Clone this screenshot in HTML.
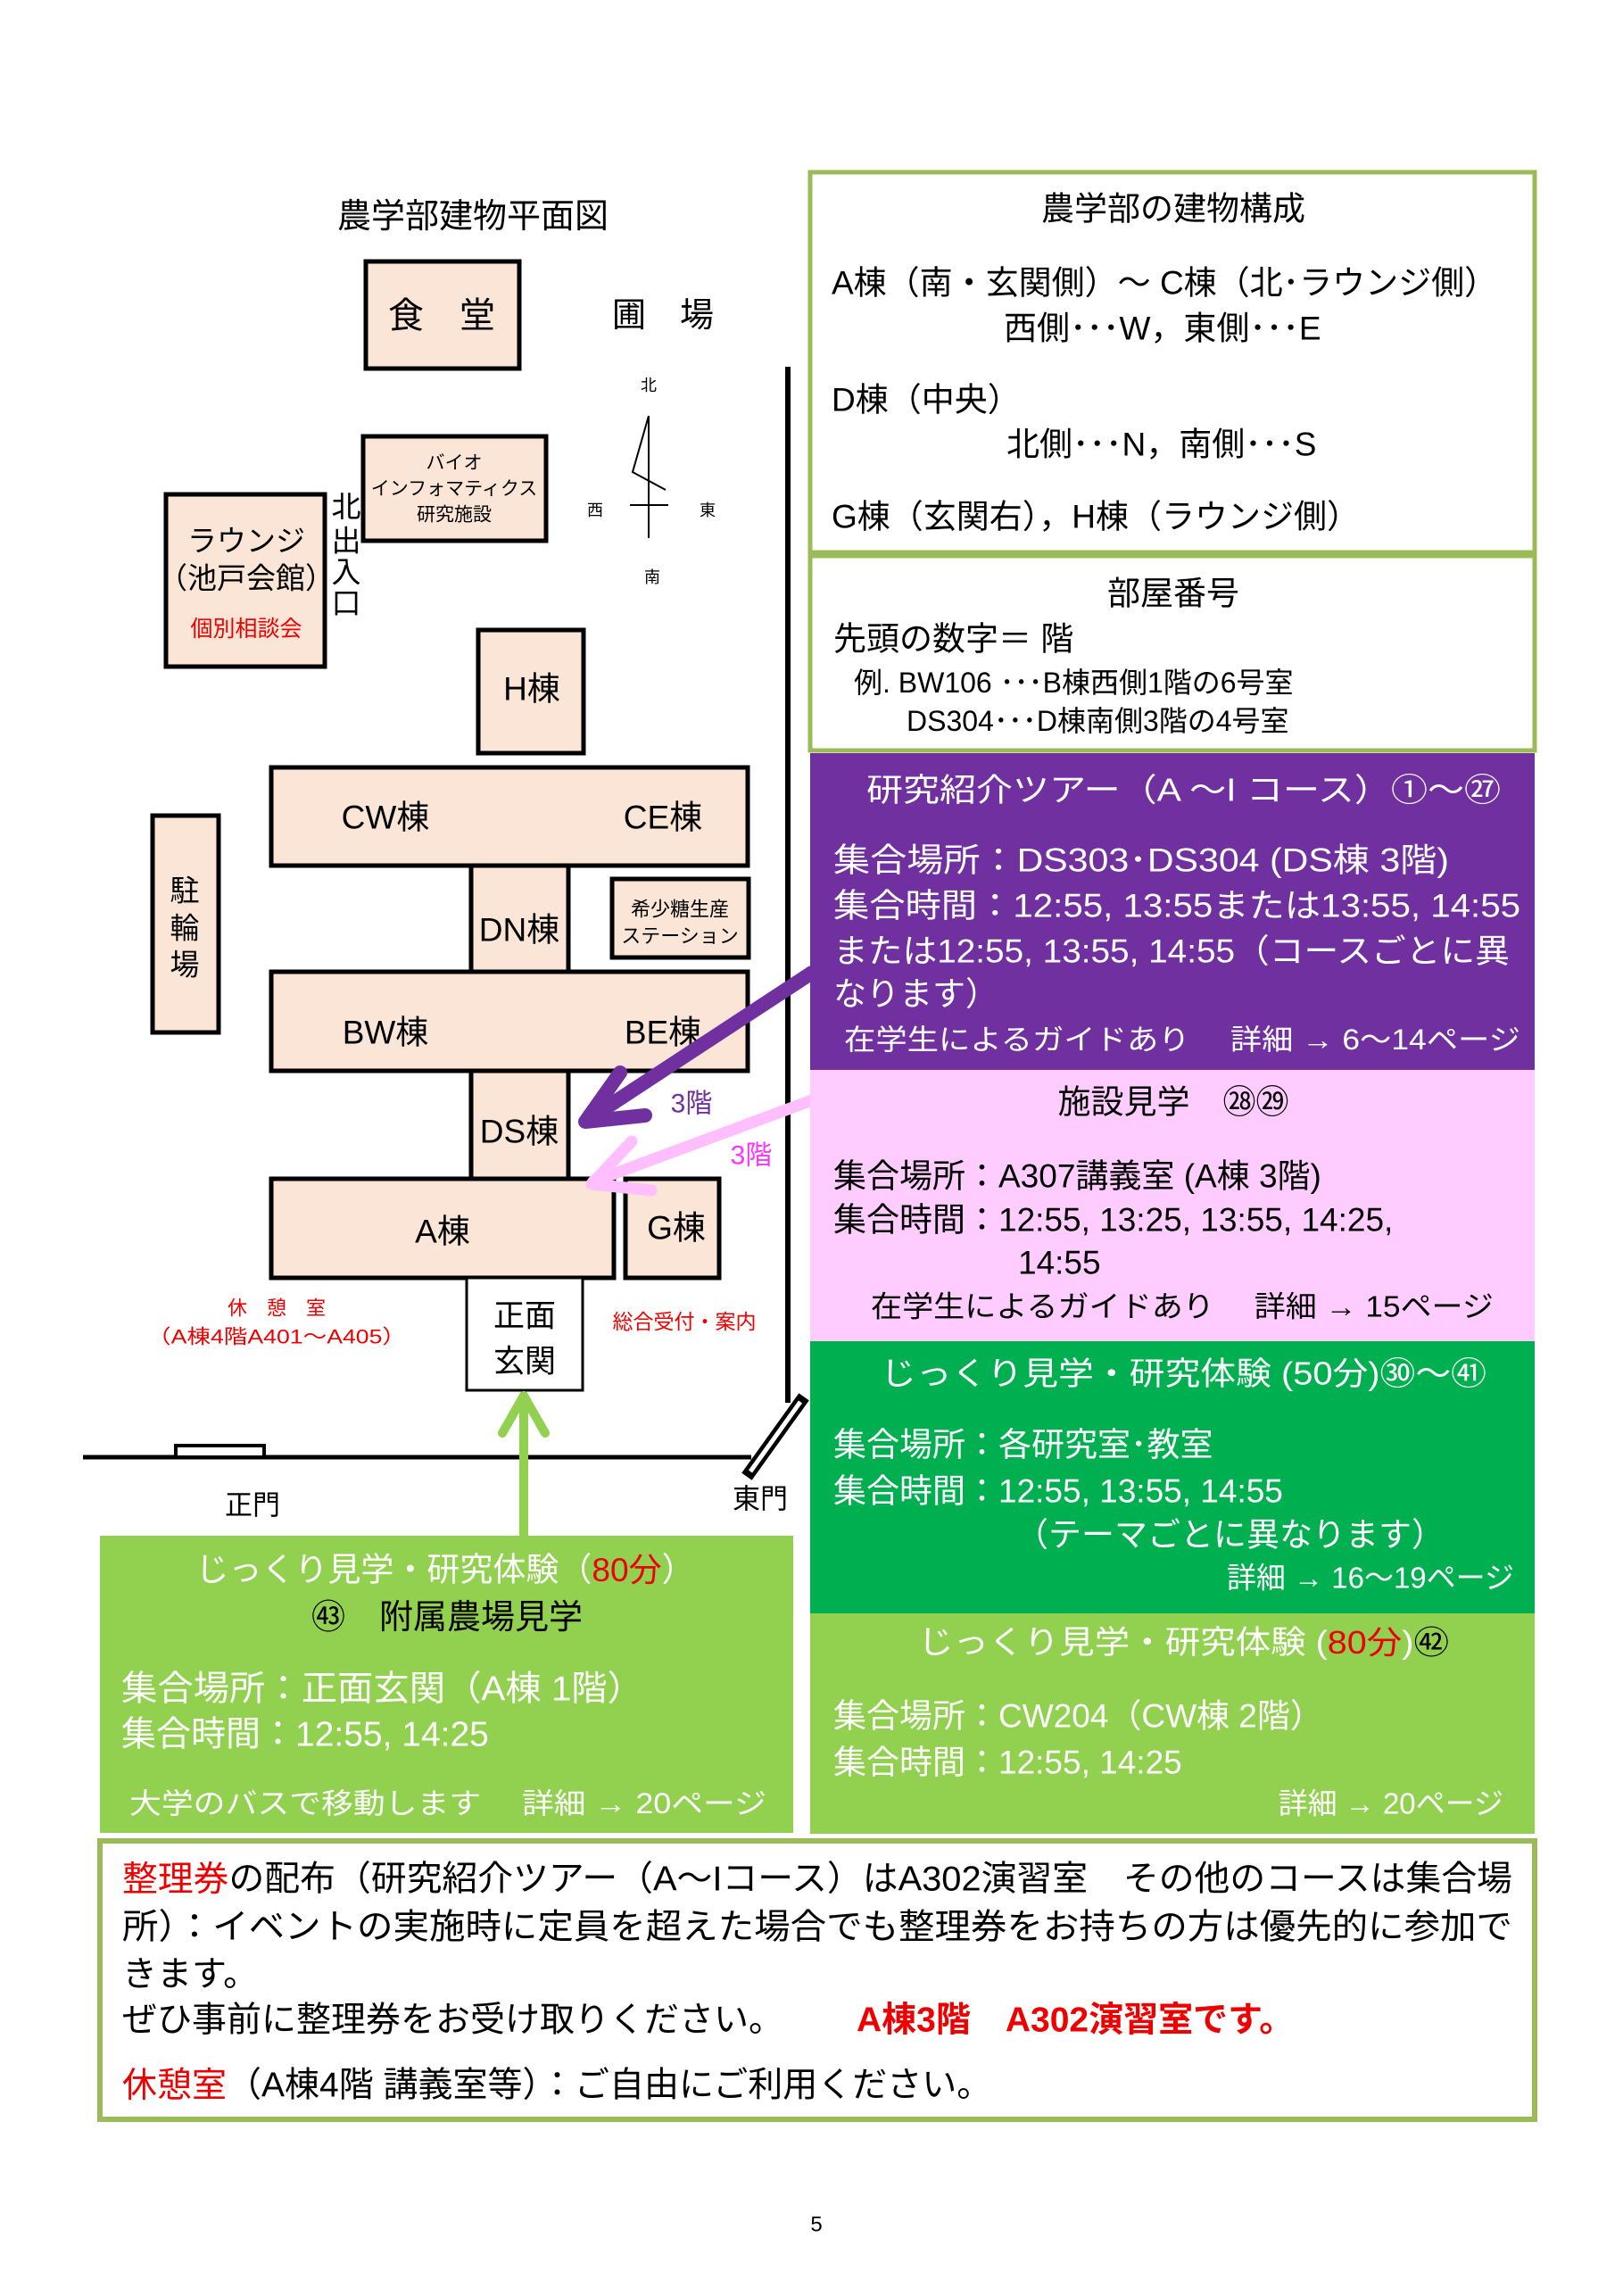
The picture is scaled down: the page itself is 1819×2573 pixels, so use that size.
<!DOCTYPE html>
<html><head><meta charset="utf-8"><style>
html,body{margin:0;padding:0;background:#fff}
svg{display:block}
text{font-family:"Liberation Sans","Noto Sans CJK JP",sans-serif;dominant-baseline:central}
</style></head><body>
<svg width="1819" height="2573" viewBox="0 0 1819 2573" xmlns="http://www.w3.org/2000/svg">
<rect width="1819" height="2573" fill="#fff"/>
<!-- MAP -->
<text x="530" y="243" font-size="38" text-anchor="middle">農学部建物平面図</text>
<g fill="#fbe5d6" stroke="#000" stroke-width="5">
<rect x="410" y="293" width="172" height="120"/>
<rect x="407" y="489" width="205" height="117"/>
<rect x="186" y="554" width="178" height="193"/>
<rect x="536" y="706" width="118" height="138"/>
<rect x="304" y="860" width="534" height="110"/>
<rect x="171" y="914" width="74" height="243"/>
<rect x="528" y="970" width="109" height="119"/>
<rect x="686" y="985" width="153" height="88"/>
<rect x="304" y="1089" width="534" height="111"/>
<rect x="528" y="1200" width="109" height="121"/>
<rect x="304" y="1321" width="384" height="111"/>
<rect x="701" y="1321" width="105" height="111"/>
</g>
<rect x="523" y="1432" width="130" height="126" fill="#fff" stroke="#000" stroke-width="3"/>
<text x="495" y="354" font-size="40" text-anchor="middle">食　堂</text>
<text x="743" y="354" font-size="38" text-anchor="middle">圃　場</text>
<text x="727" y="432" font-size="18" text-anchor="middle">北</text>
<text x="667" y="572" font-size="18" text-anchor="middle">西</text>
<text x="793" y="572" font-size="18" text-anchor="middle">東</text>
<text x="731" y="647" font-size="18" text-anchor="middle">南</text>
<g stroke="#000" stroke-width="2" fill="none">
<line x1="727" y1="466" x2="727" y2="603"/>
<line x1="706" y1="566" x2="749" y2="566"/>
<polyline points="727,466 709,529 746,549"/>
</g>
<text x="509" y="519" font-size="21" text-anchor="middle">バイオ</text>
<text x="509" y="548" font-size="21" text-anchor="middle">インフォマティクス</text>
<text x="509" y="577" font-size="21" text-anchor="middle">研究施設</text>
<text x="276" y="606" font-size="33" text-anchor="middle">ラウンジ</text>
<text x="276" y="648" font-size="33" text-anchor="middle">（池戸会館）</text>
<text x="276" y="705" font-size="25" fill="#e00" text-anchor="middle">個別相談会</text>
<g font-size="33" text-anchor="middle">
<text x="388" y="568">北</text><text x="388" y="606">出</text><text x="388" y="641">入</text><text x="388" y="676">口</text>
<text x="207" y="998">駐</text><text x="207" y="1040">輪</text><text x="207" y="1081">場</text>
</g>
<g font-size="37" text-anchor="middle">
<text x="596" y="772">H棟</text>
<text x="432" y="916">CW棟</text><text x="743" y="916">CE棟</text>
<text x="582" y="1042">DN棟</text>
<text x="432" y="1157">BW棟</text><text x="743" y="1157">BE棟</text>
<text x="582" y="1268">DS棟</text>
<text x="496" y="1380">A棟</text><text x="758" y="1376">G棟</text>
</g>
<text x="762" y="1019" font-size="22" text-anchor="middle">希少糖生産</text>
<text x="762" y="1049" font-size="22" text-anchor="middle">ステーション</text>
<text x="588" y="1475" font-size="35" text-anchor="middle">正面</text>
<text x="588" y="1526" font-size="35" text-anchor="middle">玄関</text>
<text x="310" y="1466" font-size="22" fill="#e00" text-anchor="middle">休　憩　室</text>
<text x="310" y="1498" font-size="22" fill="#e00" text-anchor="middle" textLength="290" lengthAdjust="spacingAndGlyphs">（A棟4階A401～A405）</text>
<text x="767" y="1481" font-size="23" fill="#e00" text-anchor="middle">総合受付・案内</text>
<!-- roads -->
<line x1="883" y1="411" x2="883" y2="1572" stroke="#000" stroke-width="6"/>
<line x1="93" y1="1633" x2="842" y2="1633" stroke="#000" stroke-width="5"/>
<rect x="197" y="1620" width="99" height="13" fill="#fff" stroke="#000" stroke-width="4"/>
<line x1="897" y1="1571" x2="841" y2="1649" stroke="#000" stroke-width="14" stroke-linecap="square"/>
<line x1="897" y1="1571" x2="841" y2="1649" stroke="#fff" stroke-width="5"/>
<text x="283" y="1687" font-size="31" text-anchor="middle">正門</text>
<text x="852" y="1680" font-size="31" text-anchor="middle">東門</text>
<!-- arrows -->
<g stroke="#7030a0" stroke-width="16" fill="none" stroke-linecap="round" stroke-linejoin="round">
<line x1="910" y1="1090" x2="660" y2="1254"/>
<polyline points="695,1202 656,1257 723,1250"/>
</g>
<text x="775" y="1237" font-size="30" fill="#7030a0" text-anchor="middle">3階</text>
<g stroke="#ffbfff" stroke-width="13" fill="none" stroke-linecap="round" stroke-linejoin="round">
<line x1="910" y1="1233" x2="665" y2="1324"/>
<polyline points="708,1279 663,1327 730,1334"/>
</g>
<text x="842" y="1295" font-size="30" fill="#ff33ff" text-anchor="middle">3階</text>
<g stroke="#92d050" stroke-width="10" fill="none" stroke-linecap="round" stroke-linejoin="round">
<line x1="587" y1="1564" x2="587" y2="1722"/>
<polyline points="563,1606 587,1564 611,1606"/>
</g>
<!-- Left green box -->
<rect x="112" y="1721" width="777" height="333" fill="#92d050"/>
<text x="499" y="1759" font-size="37" fill="#fff" text-anchor="middle">じっくり見学・研究体験（<tspan fill="#e00">80分</tspan>）</text>
<text x="501" y="1813" font-size="38" text-anchor="middle">㊸　附属農場見学</text>
<text x="136" y="1893" font-size="39" fill="#fff" textLength="585" lengthAdjust="spacingAndGlyphs">集合場所：正面玄関（A棟 1階）</text>
<text x="136" y="1944" font-size="39" fill="#fff">集合時間：12:55, 14:25</text>
<text x="145" y="2021" font-size="32" fill="#fff" textLength="714" lengthAdjust="spacingAndGlyphs">大学のバスで移動します　 詳細 → 20ページ</text>
<!-- Right boxes -->
<rect x="908" y="193" width="812" height="426" fill="#fff" stroke="#9bbb59" stroke-width="5"/>
<text x="1315" y="234" font-size="37" text-anchor="middle">農学部の建物構成</text>
<g font-size="37">
<text x="932" y="317">A棟（南・玄関側）～ C棟（北･ラウンジ側）</text>
<text x="1125" y="368">西側･･･W，東側･･･E</text>
<text x="932" y="448">D棟（中央）</text>
<text x="1128" y="498">北側･･･N，南側･･･S</text>
<text x="932" y="579">G棟（玄関右），H棟（ラウンジ側）</text>
</g>
<rect x="908" y="623" width="812" height="218" fill="#fff" stroke="#9bbb59" stroke-width="5"/>
<text x="1315" y="665" font-size="37" text-anchor="middle">部屋番号</text>
<text x="934" y="716" font-size="37">先頭の数字＝ 階</text>
<text x="957" y="765" font-size="32">例. BW106 ･･･B棟西側1階の6号室</text>
<text x="1016" y="808" font-size="32">DS304･･･D棟南側3階の4号室</text>
<rect x="908" y="844" width="812" height="355" fill="#7030a0"/>
<g fill="#fff">
<text x="971" y="885" font-size="36" textLength="711" lengthAdjust="spacingAndGlyphs">研究紹介ツアー（A ～I コース）①～㉗</text>
<text x="934" y="964" font-size="37" textLength="690" lengthAdjust="spacingAndGlyphs">集合場所：DS303･DS304 (DS棟 3階)</text>
<text x="934" y="1015" font-size="37" textLength="770" lengthAdjust="spacingAndGlyphs">集合時間：12:55, 13:55または13:55, 14:55</text>
<text x="934" y="1066" font-size="37" textLength="758" lengthAdjust="spacingAndGlyphs">または12:55, 13:55, 14:55（コースごとに異</text>
<text x="934" y="1114" font-size="37">なります）</text>
<text x="946" y="1165" font-size="32" textLength="758" lengthAdjust="spacingAndGlyphs">在学生によるガイドあり　 詳細 → 6～14ページ</text>
</g>
<rect x="908" y="1199" width="812" height="304" fill="#ffccff"/>
<text x="1315" y="1235" font-size="37" text-anchor="middle">施設見学　㉘㉙</text>
<text x="934" y="1318" font-size="37">集合場所：A307講義室 (A棟 3階)</text>
<text x="934" y="1367" font-size="37">集合時間：12:55, 13:25, 13:55, 14:25,</text>
<text x="1141" y="1415" font-size="37">14:55</text>
<text x="976" y="1464" font-size="33" textLength="698" lengthAdjust="spacingAndGlyphs">在学生によるガイドあり　 詳細 → 15ページ</text>
<rect x="908" y="1503" width="812" height="305" fill="#00b050"/>
<g fill="#fff">
<text x="987" y="1539" font-size="36" textLength="679" lengthAdjust="spacingAndGlyphs">じっくり見学・研究体験 (50分)㉚～㊶</text>
<text x="934" y="1619" font-size="37">集合場所：各研究室･教室</text>
<text x="934" y="1671" font-size="37">集合時間：12:55, 13:55, 14:55</text>
<text x="1138" y="1720" font-size="37">（テーマごとに異なります）</text>
<text x="1697" y="1768" font-size="33" text-anchor="end">詳細 → 16～19ページ</text>
</g>
<rect x="908" y="1808" width="812" height="247" fill="#92d050"/>
<g fill="#fff">
<text x="1029" y="1840" font-size="36" textLength="595" lengthAdjust="spacingAndGlyphs">じっくり見学・研究体験 (<tspan fill="#e00">80分</tspan>)<tspan fill="#000">㊷</tspan></text>
<text x="934" y="1923" font-size="37">集合場所：CW204（CW棟 2階）</text>
<text x="934" y="1975" font-size="37">集合時間：12:55, 14:25</text>
<text x="1685" y="2021" font-size="33" text-anchor="end">詳細 → 20ページ</text>
</g>
<!-- Note box -->
<rect x="112" y="2063" width="1608" height="312" fill="#fff" stroke="#9bbb59" stroke-width="6"/>
<g font-size="39">
<text x="137" y="2106" textLength="1558" lengthAdjust="spacingAndGlyphs"><tspan fill="#e00">整理券</tspan>の配布（研究紹介ツアー（A～Iコース）はA302演習室　その他のコースは集合場</text>
<text x="137" y="2160" textLength="1558" lengthAdjust="spacingAndGlyphs">所）：イベントの実施時に定員を超えた場合でも整理券をお持ちの方は優先的に参加で</text>
<text x="137" y="2213">きます。</text>
<text x="137" y="2264">ぜひ事前に整理券をお受け取りください。</text>
<text x="960" y="2264" fill="#e00" font-weight="bold">A棟3階　A302演習室です。</text>
<text x="137" y="2337"><tspan fill="#e00">休憩室</tspan>（A棟4階 講義室等）：ご自由にご利用ください。</text>
</g>
<text x="915" y="2493" font-size="24" text-anchor="middle">5</text>
</svg>
</body></html>
